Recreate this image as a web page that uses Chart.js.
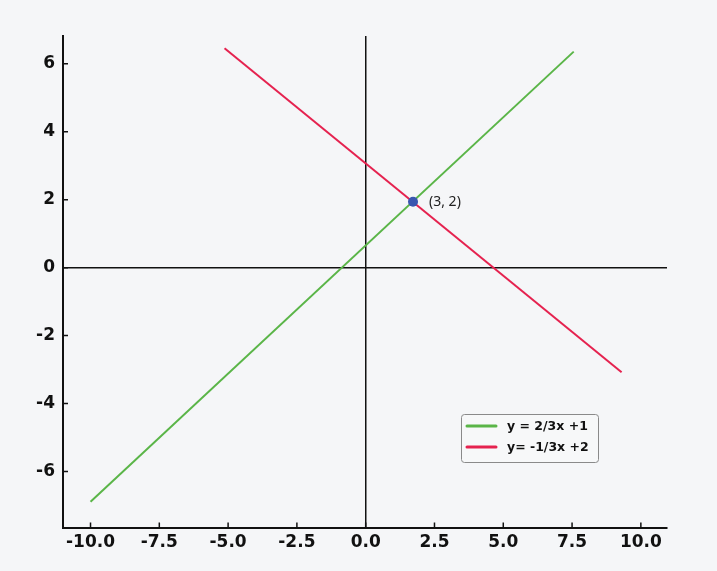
<!DOCTYPE html>
<html>
<head>
<meta charset="utf-8">
<script src="https://cdn.jsdelivr.net/npm/chart.js@4/dist/chart.umd.min.js"></script>
<style>
  html, body { margin: 0; padding: 0; background: #f5f6f8; }
  canvas { display: block; }
</style>
</head>
<body>
<canvas id="lines" width="717" height="571"></canvas>
<script>
// values
const greenLabel = 'y = 2/3x +1'
const greenX = [-10, 7.56]
const greenY = [-6.89, 6.36]

const redLabel = 'y= -1/3x +2'
const redX = [-5.13, 9.3]
const redY = [6.46, -3.08]

const pointX = [1.72]
const pointY = [1.94]
const pointLabel = '(3, 2)'

const xTicks = [-10, -7.5, -5, -2.5, 0, 2.5, 5, 7.5, 10]
const yTicks = [-6, -4, -2, 0, 2, 4, 6]

const toPoints = (xs, ys) => xs.map((x, i) => ({x: x, y: ys[i]}))

const zeroLine = (ctx) => ctx.tick && ctx.tick.value === 0 ? '#111' : 'rgba(0,0,0,0)'

const tickFont = {family: 'DejaVu Sans', size: 17, weight: 'bold'}

// short tick marks pointing into the plot
const innerTicks = {
    id: 'innerTicks',
    beforeDatasetsDraw(chart) {
        const {ctx, chartArea, scales} = chart
        ctx.save()
        ctx.strokeStyle = '#111'
        ctx.lineWidth = 1.5
        ctx.beginPath()
        scales.x.ticks.forEach(t => {
            const px = scales.x.getPixelForValue(t.value)
            ctx.moveTo(px, chartArea.bottom)
            ctx.lineTo(px, chartArea.bottom - 5)
        })
        scales.y.ticks.forEach(t => {
            const py = scales.y.getPixelForValue(t.value)
            ctx.moveTo(chartArea.left, py)
            ctx.lineTo(chartArea.left + 5, py)
        })
        ctx.stroke()
        ctx.restore()
    }
}

// legend box inside the plot, lower right
const boxLegend = {
    id: 'boxLegend',
    afterDraw(chart) {
        const ctx = chart.ctx
        const items = chart.data.datasets.filter(d => d.inLegend)
        ctx.save()
        ctx.beginPath()
        ctx.roundRect(461.5, 414.5, 137, 48, 3)
        ctx.fillStyle = '#f7f8f9'
        ctx.fill()
        ctx.strokeStyle = '#8a8a8a'
        ctx.lineWidth = 1
        ctx.stroke()
        ctx.font = 'bold 12.5px "DejaVu Sans"'
        ctx.textBaseline = 'middle'
        items.forEach((d, i) => {
            const y = 426 + i * 21
            ctx.beginPath()
            ctx.moveTo(467, y)
            ctx.lineTo(496, y)
            ctx.strokeStyle = d.borderColor
            ctx.lineWidth = 3
            ctx.lineCap = 'round'
            ctx.stroke()
            ctx.fillStyle = '#111'
            ctx.fillText(d.label, 507, y + 1)
        })
        ctx.restore()
    }
}

// "(3, 2)" note next to the marked point
const pointNote = {
    id: 'pointNote',
    afterDatasetsDraw(chart) {
        const meta = chart.getDatasetMeta(2)
        const el = meta.data[0]
        const ctx = chart.ctx
        ctx.save()
        ctx.font = '14px "Noto Sans"'
        ctx.fillStyle = '#222'
        ctx.textBaseline = 'middle'
        ctx.fillText(pointLabel, el.x + 16, el.y)
        ctx.restore()
    }
}

const ctx = document.getElementById('lines').getContext('2d')
new Chart(ctx, {
    type: 'line',
    data: {
        datasets: [
            {
                label: greenLabel,
                inLegend: true,
                data: toPoints(greenX, greenY),
                borderColor: '#5ab548',
                borderWidth: 2,
                pointRadius: 0,
                tension: 0,
            },
            {
                label: redLabel,
                inLegend: true,
                data: toPoints(redX, redY),
                borderColor: '#e5224f',
                borderWidth: 2,
                pointRadius: 0,
                tension: 0,
            },
            {
                label: pointLabel,
                data: toPoints(pointX, pointY),
                order: -1,
                showLine: false,
                pointRadius: 5,
                pointBackgroundColor: '#3a56b0',
                pointBorderColor: '#3a56b0',
                pointBorderWidth: 0,
            },
        ],
    },
    options: {
        responsive: false,
        animation: false,
        devicePixelRatio: 1,
        layout: {padding: {top: 36, right: 50, bottom: 0, left: 0}},
        plugins: {
            legend: {display: false},
            tooltip: {enabled: false},
        },
        scales: {
            x: {
                type: 'linear',
                min: -11,
                max: 10.95,
                afterBuildTicks: (scale) => { scale.ticks = xTicks.map(v => ({value: v})) },
                afterFit: (scale) => { scale.height = 43.5 },
                border: {color: '#111', width: 2},
                grid: {
                    color: zeroLine,
                    lineWidth: 1.5,
                    drawTicks: false,
                },
                ticks: {
                    color: '#111',
                    font: tickFont,
                    padding: 5,
                    maxRotation: 0,
                    autoSkip: false,
                    callback: (v) => Number(v).toFixed(1),
                },
            },
            y: {
                type: 'linear',
                min: -7.65,
                max: 6.82,
                afterBuildTicks: (scale) => { scale.ticks = yTicks.map(v => ({value: v})) },
                afterFit: (scale) => { scale.width = 63 },
                border: {color: '#111', width: 2},
                grid: {
                    color: zeroLine,
                    lineWidth: 1.5,
                    drawTicks: false,
                },
                ticks: {
                    color: '#111',
                    font: tickFont,
                    padding: 8,
                    autoSkip: false,
                },
            },
        },
    },
    plugins: [innerTicks, boxLegend, pointNote],
})
</script>
</body>
</html>
